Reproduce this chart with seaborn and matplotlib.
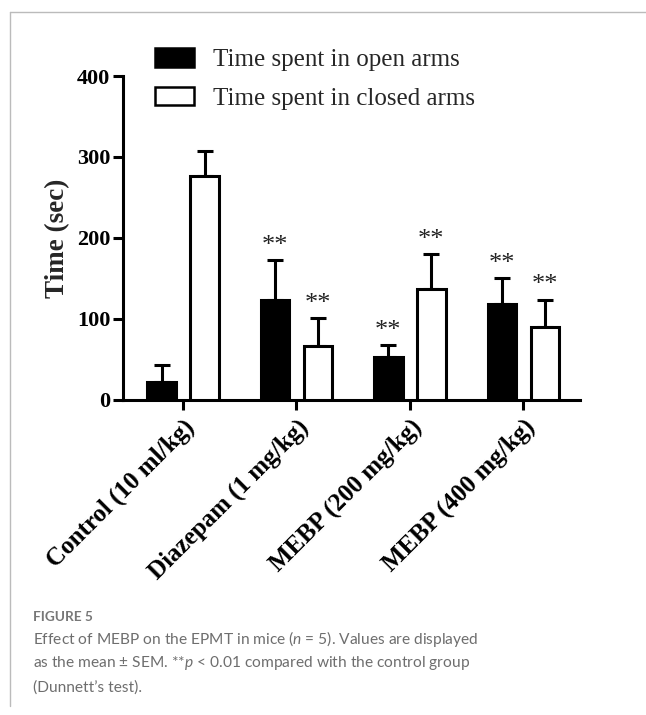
import matplotlib
matplotlib.use("Agg")
import matplotlib.pyplot as plt
import seaborn as sns
import pandas as pd
import numpy as np
from matplotlib.patches import Patch

groups = ["Control (10 ml/kg)", "Diazepam (1 mg/kg)", "MEBP (200 mg/kg)", "MEBP (400 mg/kg)"]
series = ["Time spent in open arms", "Time spent in closed arms"]
open_mean = [22, 123, 53, 119]
open_sem = [21, 50, 15, 31]
closed_mean = [277, 67, 137, 90]
closed_sem = [31, 34, 43, 34]
open_sig = ["", "**", "**", "**"]
closed_sig = ["", "**", "**", "**"]
yticks = [0, 100, 200, 300, 400]

df = pd.DataFrame({
    "group": groups * 2,
    "series": [series[0]] * 4 + [series[1]] * 4,
    "mean": open_mean + closed_mean,
    "sem": open_sem + closed_sem,
    "sig": open_sig + closed_sig,
})

sns.set_theme(style="white")
plt.rcParams["font.family"] = ["Liberation Serif", "DejaVu Serif"]
plt.rcParams["mathtext.fontset"] = "custom"
plt.rcParams["mathtext.rm"] = "Lato"
plt.rcParams["mathtext.it"] = "Lato:italic"

fig = plt.figure(figsize=(6.46, 7.15), dpi=100)
ax = fig.add_axes([0.1904, 0.4406, 0.7074, 0.4531])

lw = 2.2
sns.barplot(data=df, x="group", y="mean", hue="series", order=groups, hue_order=series,
            palette=["black", "white"], edgecolor="black", linewidth=lw,
            width=0.76, gap=0.34, errorbar=None, legend=False, ax=ax, zorder=3)

# error bars (upper only) and significance marks
bars = ax.patches[:8]
for s_i, s in enumerate(series):
    sub = df[df["series"] == s].set_index("group").loc[groups]
    xs = [bars[s_i * 4 + g].get_x() + bars[s_i * 4 + g].get_width() / 2 for g in range(4)]
    ax.errorbar(xs, sub["mean"].values, yerr=[np.zeros(4), sub["sem"].values],
                fmt="none", ecolor="black", elinewidth=lw, capsize=6, capthick=lw, zorder=2)
    for x, m, e, t in zip(xs, sub["mean"].values, sub["sem"].values, sub["sig"].values):
        if t:
            ax.text(x, m + e + 4, t, ha="center", va="bottom", fontsize=19, color="#222222")

ax.set_xlim(-0.53, 3.5)
ax.set_ylim(0, 400)
ax.set_yticks(yticks)
ax.set_yticklabels([str(v) for v in yticks], fontsize=16, fontweight="bold")
ax.set_xticks(range(4))
ax.set_xticklabels(groups, rotation=45, ha="right", rotation_mode="anchor",
                   fontsize=18, fontweight="bold")
ax.set_xlabel("")
ax.set_ylabel("Time (sec)", fontsize=19.5, fontweight="bold", labelpad=5)
for side in ["top", "right"]:
    ax.spines[side].set_visible(False)
for side in ["left", "bottom"]:
    ax.spines[side].set_linewidth(lw)
    ax.spines[side].set_color("black")
ax.tick_params(axis="both", direction="out", length=7, width=lw, colors="black", pad=2,
               left=True, bottom=True)
ax.tick_params(axis="x", pad=4)

handles = [Patch(facecolor="black", edgecolor="black", linewidth=1.8),
           Patch(facecolor="white", edgecolor="black", linewidth=1.8)]
fig.legend(handles, series, loc="upper left", bbox_to_anchor=(0.24, 0.933),
           frameon=False, fontsize=18, handlelength=1.55, handleheight=0.78,
           handletextpad=0.75, labelspacing=0.62, borderaxespad=0, borderpad=0)

# figure frame lines
fig.add_artist(plt.Line2D([9.5 / 646, 9.5 / 646], [0.012, 1 - 12 / 715], color="#bbbbbb", lw=1))
fig.add_artist(plt.Line2D([9.5 / 646, 1], [1 - 12 / 715, 1 - 12 / 715], color="#bbbbbb", lw=1))

cap_font = ["Lato", "DejaVu Sans"]
fig.text(33 / 646, 1 - 617 / 715, "FIGURE 5", family=cap_font, fontsize=9.8, fontweight="bold",
         color="#777777", va="center", ha="left")
lines = [r"Effect of MEBP on the EPMT in mice ($\mathit{n}$ = 5). Values are displayed",
         r"as the mean $\pm$ SEM. **$\mathit{p}$ < 0.01 compared with the control group",
         "(Dunnett\u2019s test)."]
for i, t in enumerate(lines):
    fig.text(33 / 646, 1 - (639 + 24.5 * i) / 715, t, family=cap_font, fontsize=11.2,
             color="#6e6e6e", va="center", ha="left")

fig.savefig("out.png", dpi=100, facecolor="white")
